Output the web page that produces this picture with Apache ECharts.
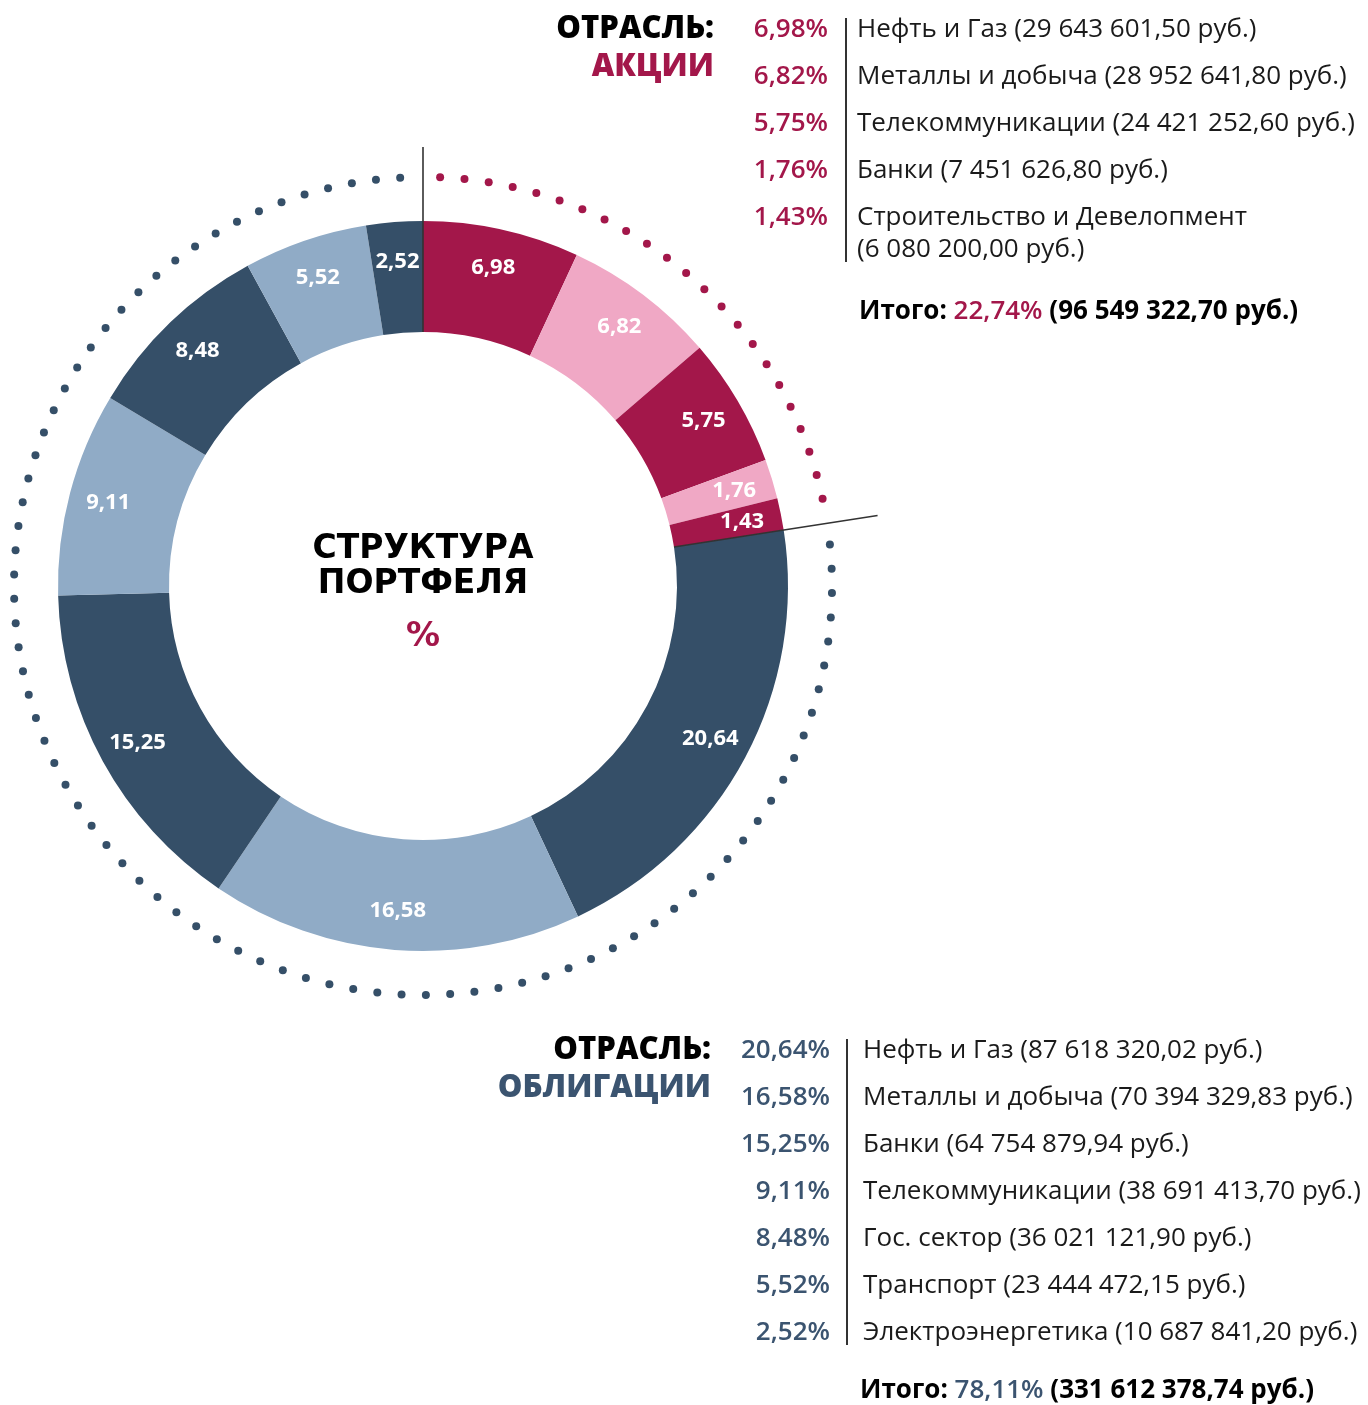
<!DOCTYPE html>
<html>
<head>
<meta charset="utf-8">
<script src="https://cdn.jsdelivr.net/npm/echarts@6/dist/echarts.min.js"></script>
<style>
  html, body { margin: 0; padding: 0; background: #fff; }
  #chart { width: 1368px; height: 1405px; }
</style>
</head>
<body>
<div id="chart"></div>
<script>
// stocks (акции), clockwise from 12 o'clock
const stockSectors = ['Нефть и Газ', 'Металлы и добыча', 'Телекоммуникации', 'Банки', 'Строительство и Девелопмент']
const stockPct = [6.98, 6.82, 5.75, 1.76, 1.43]
const stockRub = [29643601.50, 28952641.80, 24421252.60, 7451626.80, 6080200.00]
const stockTotalPct = 22.74
const stockTotalRub = 96549322.70

// bonds (облигации)
const bondSectors = ['Нефть и Газ', 'Металлы и добыча', 'Банки', 'Телекоммуникации', 'Гос. сектор', 'Транспорт', 'Электроэнергетика']
const bondPct = [20.64, 16.58, 15.25, 9.11, 8.48, 5.52, 2.52]
const bondRub = [87618320.02, 70394329.83, 64754879.94, 38691413.70, 36021121.90, 23444472.15, 10687841.20]
const bondTotalPct = 78.11
const bondTotalRub = 331612378.74

const RED = '#a3174a', PINK = '#f0a8c5', NAVY = '#354f68', SKY = '#90abc6'
const BOND_TXT = '#3b5470'
const CX = 423, CY = 586, R0 = 254, R1 = 365, RDOT = 409
const FONT = '"Open Sans", "Noto Sans", sans-serif'

const fmtPct = (v) => v.toFixed(2).replace('.', ',')
const fmtRub = (v) => {
  const [int, dec] = v.toFixed(2).split('.')
  return int.replace(/\B(?=(\d{3})+(?!\d))/g, ' ') + ',' + dec + ' руб.'
}

const chart = echarts.init(document.getElementById('chart'), null, { renderer: 'canvas' })

const pieData = [
  ...stockPct.map((v, i) => ({ name: 'a' + i, value: v, itemStyle: { color: i % 2 ? PINK : RED } })),
  ...bondPct.map((v, i) => ({ name: 'b' + i, value: v, itemStyle: { color: i % 2 ? SKY : NAVY } }))
]

// angles (deg, clockwise from top)
const total = [...stockPct, ...bondPct].reduce((s, v) => s + v, 0)
const stockAngle = 360 * stockPct.reduce((s, v) => s + v, 0) / total

const toXY = (deg, r) => {
  const a = (deg - 90) * Math.PI / 180
  return [CX + Math.cos(a) * r, CY + Math.sin(a) * r]
}

// dotted arc made of small circles, ~24px apart
function dottedArc(from, to, color) {
  const len = (to - from) * Math.PI / 180 * RDOT
  const n = Math.round(len / 24.4)
  const dots = []
  for (let i = 0; i <= n; i++) {
    const [x, y] = toXY(from + (to - from) * i / n, RDOT)
    dots.push({ type: 'circle', silent: true, shape: { cx: x, cy: y, r: 4 }, style: { fill: color } })
  }
  return dots
}

function boundary(deg, rOut) {
  const [x1, y1] = toXY(deg, R0)
  const [x2, y2] = toXY(deg, rOut)
  return { type: 'line', silent: true, z: 10, shape: { x1, y1, x2, y2 }, style: { stroke: '#333', lineWidth: 1.6 } }
}

function txt(x, y, text, opts) {
  return {
    type: 'text', silent: true, x, y,
    style: Object.assign({ text, font: '400 26px ' + FONT, fill: '#1a1a1a', textVerticalAlign: 'middle', textAlign: 'left' }, opts || {})
  }
}

function block(top, heading, headColor, pcts, sectors, rubs, totPct, totRub, pctColor, opt) {
  const els = []
  const step = 47
  els.push(txt(opt.headX, top - 1, 'ОТРАСЛЬ:', { font: '800 31px ' + FONT, textAlign: 'right', fill: '#000' }))
  els.push(txt(opt.headX, top + 37, heading, { font: '800 31px ' + FONT, textAlign: 'right', fill: headColor }))
  let lastY = top
  pcts.forEach((p, i) => {
    const y = top + i * step
    els.push(txt(opt.pctX, y, fmtPct(p) + '%', { font: '600 26px ' + FONT, textAlign: 'right', fill: pctColor }))
    const s = sectors[i] + ' (' + fmtRub(rubs[i]) + ')'
    if (opt.wrapLast && i === pcts.length - 1) {
      els.push(txt(opt.textX, y, sectors[i]))
      els.push(txt(opt.textX, y + 32, '(' + fmtRub(rubs[i]) + ')'))
      lastY = y + 32
    } else {
      els.push(txt(opt.textX, y, s))
      lastY = y
    }
  })
  els.push({
    type: 'line', silent: true,
    shape: { x1: opt.sepX, y1: top - 12, x2: opt.sepX, y2: lastY + 12 },
    style: { stroke: '#333', lineWidth: 2 }
  })
  els.push({
    type: 'text', silent: true, x: opt.totX, y: lastY + opt.totGap,
    style: {
      text: '{a|Итого: }{b|' + fmtPct(totPct) + '%}{a| (' + fmtRub(totRub) + ')}',
      textVerticalAlign: 'middle',
      rich: {
        a: { font: '700 26px ' + FONT, fill: '#000' },
        b: { font: '600 26px ' + FONT, fill: pctColor }
      }
    }
  })
  return els
}

const graphics = [
  ...dottedArc(2.4, stockAngle - 3.5, RED),
  ...dottedArc(stockAngle + 3.0, 356.8, NAVY),
  boundary(0, 439),
  boundary(stockAngle, 460),
  txt(CX, 549, 'СТРУКТУРА', { font: 'bold 33px "DejaVu Sans", sans-serif', textAlign: 'center', fill: '#000' }),
  txt(CX, 584, 'ПОРТФЕЛЯ', { font: 'bold 33px "DejaVu Sans", sans-serif', textAlign: 'center', fill: '#000' }),
  txt(CX, 637, '%', { font: 'bold 34px "DejaVu Sans", sans-serif', textAlign: 'center', fill: RED }),
  ...block(30, 'АКЦИИ', RED, stockPct, stockSectors, stockRub, stockTotalPct, stockTotalRub, RED,
    { headX: 714, pctX: 828, sepX: 846, textX: 857, totX: 859, wrapLast: true, totGap: 62 }),
  ...block(1051, 'ОБЛИГАЦИИ', BOND_TXT, bondPct, bondSectors, bondRub, bondTotalPct, bondTotalRub, BOND_TXT,
    { headX: 711, pctX: 830, sepX: 847, textX: 863, totX: 860, wrapLast: false, totGap: 58 })
]

chart.setOption({
  animation: false,
  graphic: graphics,
  series: [
    {
      type: 'pie',
      center: [CX, CY],
      radius: [R0, R1],
      startAngle: 90,
      clockwise: true,
      avoidLabelOverlap: false,
      silent: true,
      data: pieData,
      itemStyle: { borderWidth: 0 },
      label: {
        show: true,
        position: 'inside',
        color: '#fff',
        fontFamily: '"Open Sans", sans-serif',
        fontWeight: 700,
        fontSize: 22,
        formatter: (p) => fmtPct(p.value)
      },
      labelLine: { show: false },
      labelLayout: (p) => {
        const r = p.labelRect
        const lx = r.x + r.width / 2, ly = r.y + r.height / 2
        const a = Math.atan2(ly - CY, lx - CX)
        return { dx: Math.cos(a) * 13, dy: Math.sin(a) * 13 }
      }
    }
  ]
})
</script>
</body>
</html>
